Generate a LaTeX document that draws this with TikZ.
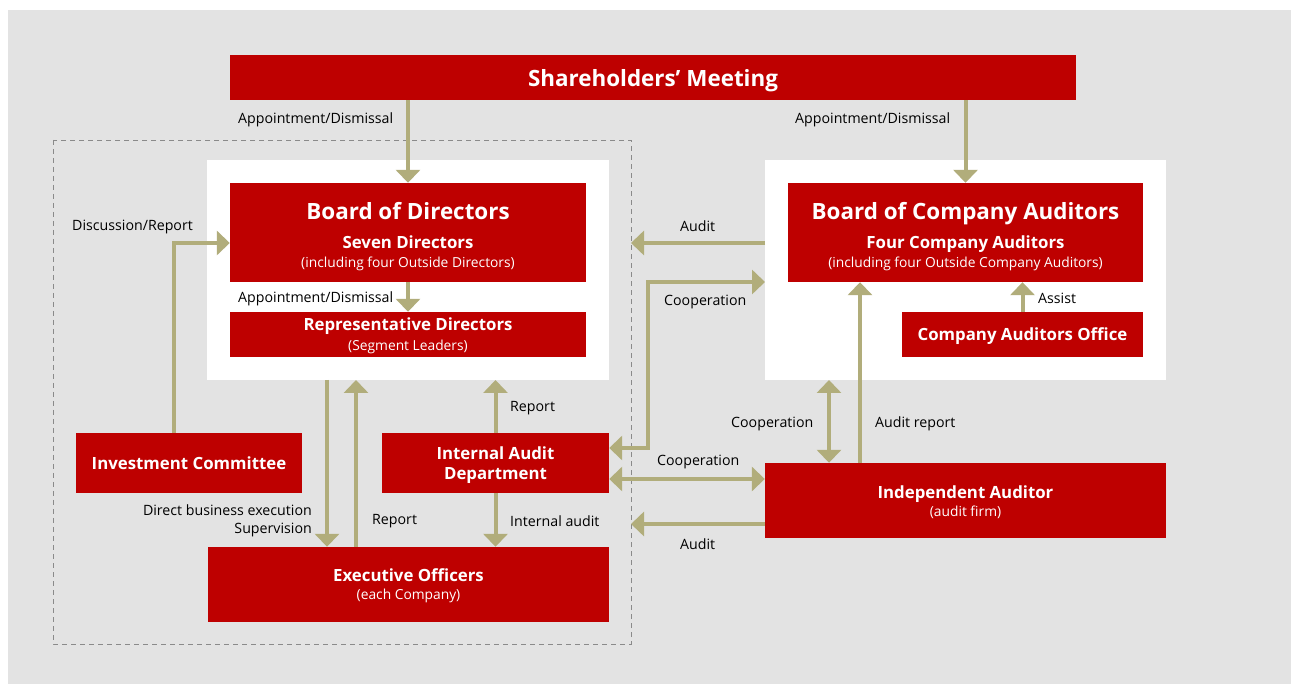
\documentclass[tikz,border=0pt]{standalone}
\usepackage{fontspec}
\setmainfont{Open Sans}
\usetikzlibrary{arrows.meta}
\definecolor{boxred}{HTML}{BE0000}
\definecolor{panelgray}{HTML}{E3E3E3}
\definecolor{olive}{HTML}{B1AD7B}
\definecolor{dashgray}{HTML}{8A8A8A}
\tikzset{
  redbox/.style={fill=boxred, draw=none, text=white, align=center, inner sep=0pt,
    font=\fontsize{13}{20}\selectfont},
  onebox/.style={redbox, text depth=0pt},
  boxtext/.style={text=white, align=center, inner sep=0pt, font=\fontsize{13}{19.5}\selectfont},
  lbl/.style={font=\fontsize{14.2}{17}\selectfont, text=black, inner sep=0pt, yshift=-1.5pt},
  flow/.style={draw=olive, line width=4pt, -{Triangle[width=24pt,length=13pt]}},
  twoway/.style={draw=olive, line width=4pt, {Triangle[width=24pt,length=13pt]}-{Triangle[width=24pt,length=13pt]}},
}
\newcommand{\ttl}[1]{{\bfseries\fontsize{22.4}{25}\selectfont #1}}
\newcommand{\sub}[1]{{\bfseries\fontsize{16.8}{19}\selectfont #1}}
\newcommand{\note}[1]{{\fontsize{13.8}{15}\selectfont #1}}
\begin{document}
\begin{tikzpicture}[x=1pt,y=-1pt]
\useasboundingbox (0,0) rectangle (1291,684);
% panel and grouping frames
\fill[white] (0,0) rectangle (1291,684);
\fill[panelgray] (8,10) rectangle (1291,684);
\draw[dashgray, dashed, line width=0.9pt, dash pattern=on 5pt off 4pt] (53,140) rectangle (631,644);
\fill[white] (207,160) rectangle (609,380);
\fill[white] (765,160) rectangle (1166,380);

% boxes
\node[onebox, minimum width=846pt, minimum height=45pt] (sm) at (653,77.5) {\ttl{Shareholders’ Meeting}};
\node[redbox, minimum width=356pt, minimum height=99pt] (bod) at (408,232.5) {};
\node[boxtext, yshift=-4.5pt] (bodt) at (bod.center)
  {\ttl{Board of Directors}\\[9pt]\sub{Seven Directors}\\\note{(including four Outside Directors)}};
\node[redbox, minimum width=356pt, minimum height=45pt] (rd) at (408,334.5) {};
\node[boxtext, yshift=-1.5pt] (rdt) at (rd.center)
  {\sub{Representative Directors}\\\note{(Segment Leaders)}};
\node[redbox, minimum width=355pt, minimum height=99pt] (bca) at (965.5,232.5) {};
\node[boxtext, yshift=-4.5pt] (bcat) at (bca.center)
  {\ttl{Board of Company Auditors}\\[9pt]\sub{Four Company Auditors}\\\note{(including four Outside Company Auditors)}};
\node[onebox, minimum width=241pt, minimum height=45pt] (cao) at (1022.5,334.5) {\sub{Company Auditors Office}};
\node[onebox, minimum width=226pt, minimum height=60pt] (ic) at (189,463) {\sub{Investment Committee}};
\node[redbox, minimum width=227pt, minimum height=60pt] (iad) at (495.5,463) {};
\node[boxtext, yshift=-2pt] (iadt) at (iad.center) {\sub{Internal Audit}\\[1pt]\sub{Department}};
\node[redbox, minimum width=401pt, minimum height=75pt] (eo) at (408.5,584.5) {};
\node[boxtext, yshift=-1pt] (eot) at (eo.center) {\sub{Executive Officers}\\[-2pt]\note{(each Company)}};
\node[redbox, minimum width=401pt, minimum height=75pt] (ia) at (965.5,500.5) {};
\node[boxtext, yshift=-1.5pt] (iat) at (ia.center) {\sub{Independent Auditor}\\[-2pt]\note{(audit firm)}};

% anchor points on the white frames and the dashed frame
\coordinate (lwb) at (408,380);
\coordinate (rwl) at (765,243);
\coordinate (dfu) at (631,243);
\coordinate (dfl) at (631,524);

% connectors
\draw[flow] (sm.south -| bod.north) -- (bod.north);
\draw[flow] (sm.south -| bca.north) -- (bca.north);
\draw[flow] (bod.south) -- (rd.north);
\draw[flow] (cao.north) -- (cao.north |- bca.south);
\draw[flow] (ic.north -| 174,0) |- (bod.west |- 0,243);
\draw[flow] (iad.north) -- (iad.north |- lwb);
\draw[flow] (iad.south) -- (iad.south |- eo.north);
\draw[flow] (327,380) -- (eo.north -| 327,0);
\draw[flow] (eo.north -| 356,0) -- (356,380);
\draw[flow] (rwl) -- (dfu);
\draw[flow] (ia.west |- dfl) -- (dfl);
\draw[twoway] (iad.east |- 0,448) -| (648,282) -- (765,282);
\draw[twoway] (iad.east |- 0,479) -- (ia.west |- 0,479);
\draw[twoway] (829,380) -- (ia.north -| 829,0);
\draw[flow] (ia.north -| 860,0) -- (bca.south -| 860,0);

% labels
\node[lbl, anchor=west] (l1) at (238,118) {Appointment/Dismissal};
\node[lbl, anchor=west] (l2) at (795,118) {Appointment/Dismissal};
\node[lbl, anchor=west] (l3) at (238,297) {Appointment/Dismissal};
\node[lbl, anchor=west] (l4) at (72,225) {Discussion/Report};
\node[lbl, anchor=west] (l5) at (1038,297) {Assist};
\node[lbl, anchor=west] (l6) at (680,225) {Audit};
\node[lbl, anchor=west] (l7) at (664,300) {Cooperation};
\node[lbl, anchor=west] (l8) at (510,407) {Report};
\node[lbl, anchor=west] (l9) at (731,422) {Cooperation};
\node[lbl, anchor=west] (l10) at (875,422) {Audit report};
\node[lbl, anchor=west] (l11) at (657,460) {Cooperation};
\node[lbl, anchor=west] (l12) at (510,520) {Internal audit};
\node[lbl, anchor=west] (l13) at (372,520) {Report};
\node[lbl, anchor=west] (l14) at (680,543) {Audit};
\node[lbl, anchor=east, align=right, font=\fontsize{14.2}{18}\selectfont] (l15) at (312,519.5) {Direct business execution\\Supervision};
\end{tikzpicture}
\end{document}
